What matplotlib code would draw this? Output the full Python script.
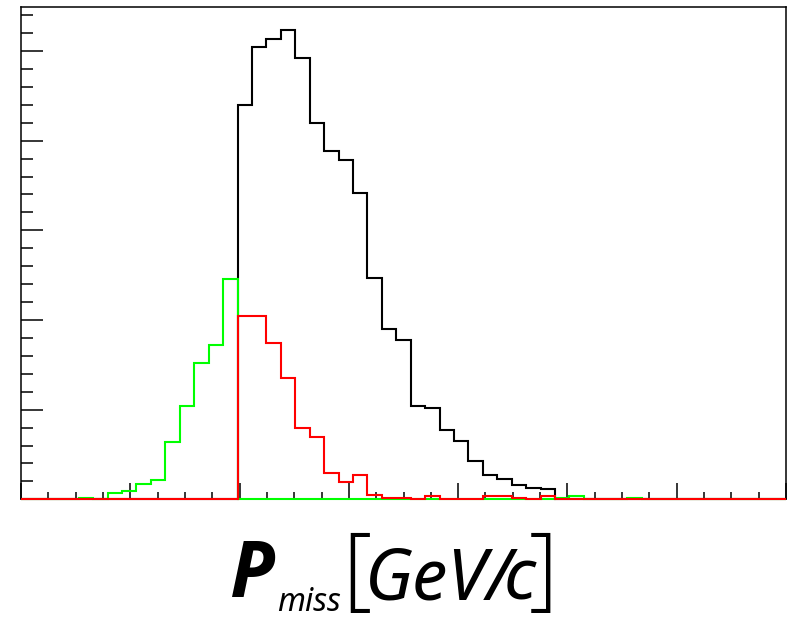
import matplotlib
matplotlib.use("Agg")
import matplotlib.pyplot as plt
from matplotlib.ticker import MultipleLocator
import numpy as np

# 53 bins between 0 and 3.5 GeV/c
n_bins = 53
p_min, p_max = 0.0, 3.5

# bin index -> counts, everything else is empty
total_counts = {15: 440, 16: 504, 17: 513, 18: 523, 19: 492, 20: 420, 21: 388,
                22: 378, 23: 342, 24: 247, 25: 190, 26: 178, 27: 104, 28: 102,
                29: 77, 30: 65, 31: 43, 32: 27, 33: 23, 34: 16, 35: 13, 36: 11}
red_counts = {15: 204, 16: 204, 17: 174, 18: 135, 19: 80, 20: 69, 21: 29,
              22: 19, 23: 27, 24: 5, 25: 2, 26: 2, 28: 4, 32: 4, 33: 4,
              34: 2, 36: 4}
green_counts = {4: 2, 6: 7, 7: 9, 8: 17, 9: 21, 10: 64, 11: 104, 12: 152,
                13: 172, 14: 246, 37: 2, 38: 4, 42: 2}


def to_hist(counts):
    h = np.zeros(n_bins)
    for i, c in counts.items():
        h[i] = c
    return h


edges = np.linspace(p_min, p_max, n_bins + 1)
h_total = to_hist(total_counts)
h_red = to_hist(red_counts)
h_green = to_hist(green_counts)

fig = plt.figure(figsize=(7.93, 6.2), dpi=100)
ax = fig.add_axes([21 / 793, 1 - 499.3 / 620, 765 / 793, 492.3 / 620])

ax.stairs(h_total, edges, color="black", lw=1.5, zorder=3, clip_on=False)
ax.stairs(h_green, edges, color="#00ff00", lw=1.5, zorder=4, clip_on=False)
ax.stairs(h_red, edges, color="#ff0000", lw=1.5, zorder=5, clip_on=False)

ax.set_xlim(p_min, p_max)
ax.set_ylim(0, 1.05 * h_total.max())

ax.xaxis.set_major_locator(MultipleLocator(0.5))
ax.xaxis.set_minor_locator(MultipleLocator(0.125))
ax.yaxis.set_major_locator(MultipleLocator(100))
ax.yaxis.set_minor_locator(MultipleLocator(20))
ax.tick_params(axis="x", which="major", direction="in", length=11.5, width=1.1)
ax.tick_params(axis="x", which="minor", direction="in", length=5.3, width=1.1)
ax.tick_params(axis="y", which="major", direction="in", length=16, width=1.1)
ax.tick_params(axis="y", which="minor", direction="in", length=8.4, width=1.1)
ax.tick_params(labelbottom=False, labelleft=False, top=False, right=False)
for s in ax.spines.values():
    s.set_linewidth(1.1)

# axis title, drawn in pieces like a TLatex string
narrow = ["Noto Sans", "DejaVu Sans"]
plain = ["Open Sans", "DejaVu Sans"]


def put(x_px, y_px, s, size, fam=narrow, stretch="condensed", **kw):
    fig.text(x_px / 793, 1 - y_px / 620, s, fontsize=size, family=fam,
             stretch=stretch, va="baseline", ha="left", **kw)


put(230, 597, "P", 56, fam=plain, stretch="normal", style="italic", weight="bold")
put(277, 611, "miss", 23, style="italic")
put(342, 598, "[", 66, fam=plain, stretch="normal", weight="light")
put(365, 600, "GeV/", 51, style="italic")
put(504, 600, "c", 51, style="italic")
put(529, 598, "]", 66, fam=plain, stretch="normal", weight="light")

fig.savefig("out.png", dpi=100)
